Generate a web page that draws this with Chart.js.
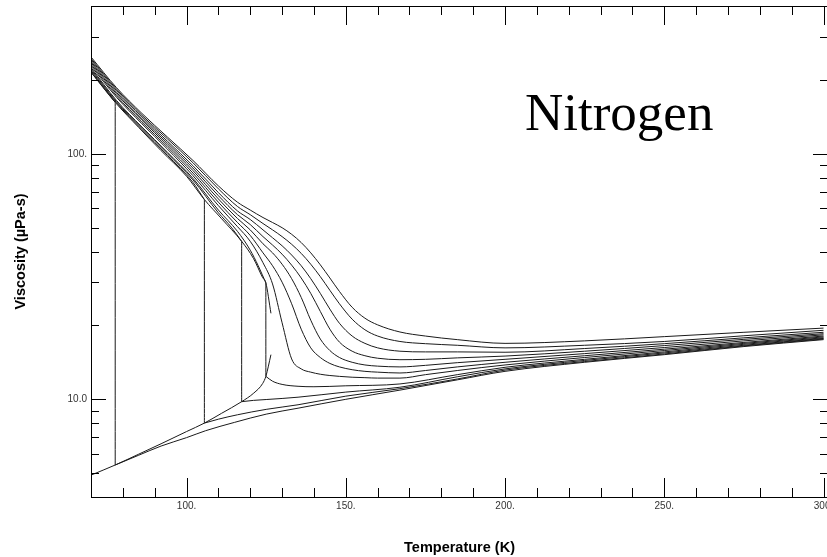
<!DOCTYPE html>
<html>
<head>
<meta charset="utf-8">
<title>Nitrogen viscosity</title>
<script src="https://cdn.jsdelivr.net/npm/chart.js@4.4.1/dist/chart.umd.min.js"></script>
<style>
  html, body { margin: 0; padding: 0; background: #fff; overflow: hidden; }
  #wrap { width: 840px; height: 557px; }
</style>
</head>
<body>
<div id="wrap"><canvas id="chart" width="840" height="557"></canvas></div>
<script>
// ---- axis ticks and labels ----
const xTicks = [70, 80, 90, 100, 110, 120, 130, 140, 150, 160, 170, 180, 190, 200,
                210, 220, 230, 240, 250, 260, 270, 280, 290, 300];
const xLabelValues = [100, 150, 200, 250, 300];
const xLabelText = ['100.', '150.', '200.', '250.', '300.'];
const yTicks = [4, 5, 6, 7, 8, 9, 10, 20, 30, 40, 50, 60, 70, 80, 90, 100, 200, 300, 400];
const yLabelValues = [10, 100];
const yLabelText = ['10.0', '100.'];

const xTitle = 'Temperature (K)';
const yTitle = 'Viscosity (\u00b5Pa-s)';
const fluidName = 'Nitrogen';

// ---- saturation boundary (K, uPa-s) ----
const satLiqT = [70, 77.6, 85, 92, 100, 105.6, 111, 117.3, 121, 123.9, 124.9, 126.5];
const satLiqV = [215, 162, 128, 103, 81, 65.1, 54.4, 44.0, 37.5, 31.3, 29.8, 22.4];
const satVapT = [70, 77.6, 85, 92, 100, 105.6, 111, 117.3, 121.1, 123.9, 124.9, 126.5];
const satVapV = [4.91, 5.40, 5.98, 6.59, 7.39, 8.0, 8.77, 9.78, 10.6, 11.6, 12.4, 15.2];

// ---- subcritical isobars: liquid branch, then vapour branch ----
const p01LiqT = [70, 74, 77.6];
const p01LiqV = [215.5, 185.5, 162];
const p01VapT = [77.6, 85, 92, 100, 106, 115, 125, 135, 150, 167, 185, 200, 225, 250, 275, 300];
const p01VapV = [5.40, 5.92, 6.45, 6.98, 7.45, 8.05, 8.7, 9.2, 10.0, 10.9, 12.0, 13.0, 14.15, 15.2, 16.4, 17.5];

const p1LiqT = [70, 78, 86, 94, 102, 105.6];
const p1LiqV = [218.5, 161.5, 125.5, 98.5, 76.5, 65.1];
const p1VapT = [105.6, 110, 116, 125, 135, 150, 167, 185, 200, 225, 250, 275, 300];
const p1VapV = [8.0, 8.3, 8.65, 9.1, 9.5, 10.3, 11.05, 12.1, 13.15, 14.25, 15.3, 16.5, 17.6];

const p2LiqT = [70, 78, 86, 94, 102, 110, 114, 117.3];
const p2LiqV = [221.5, 163, 127, 100, 78.3, 57.5, 50.3, 44.0];
const p2VapT = [117.3, 121, 125, 130, 135, 150, 167, 185, 200, 225, 250, 275, 300];
const p2VapV = [9.78, 9.9, 9.98, 10.08, 10.2, 10.7, 11.2, 12.35, 13.3, 14.4, 15.45, 16.6, 17.7];

const p3LiqT = [70, 78, 86, 94, 102, 110, 116, 120, 122.5, 124.9];
const p3LiqV = [224.5, 165, 128.5, 101.5, 79.5, 59, 48.3, 40.5, 35, 29.8];
const p3VapT = [124.9, 127, 130, 135, 140, 150, 167, 185, 200, 225, 250, 275, 300];
const p3VapV = [12.4, 11.85, 11.5, 11.3, 11.25, 11.35, 11.55, 12.6, 13.5, 14.55, 15.6, 16.75, 17.8];

// ---- supercritical isobars on a shared temperature grid ----
const superT = [70, 78, 86, 94, 102, 110, 116, 120, 124, 127, 130, 133, 136, 139, 142, 145,
                148, 152, 156, 160, 167, 175, 185, 200, 225, 250, 275, 300];
const visc4  = [228, 170, 132.5, 104.5, 81.5, 61.5, 50.5, 44, 36, 29.5, 20.5, 14.6, 13.3, 12.9,
                12.65, 12.5, 12.4, 12.3, 12.25, 12.2, 12.2, 12.6, 13.1, 13.8, 14.8, 15.8, 16.9, 17.95];
const visc5  = [231.5, 172.5, 134.5, 106.5, 83.5, 63.5, 52.5, 46.5, 39.5, 35, 30, 24.5, 19.3, 16.2,
                14.8, 14.0, 13.55, 13.2, 13.0, 12.9, 12.8, 13.1, 13.55, 14.15, 15.05, 16.0, 17.05, 18.1];
const visc6  = [235, 175.5, 137, 108.5, 85.5, 65.5, 54.5, 49, 43, 39.5, 35.5, 31, 26, 21,
                17.6, 15.8, 14.8, 14.15, 13.8, 13.65, 13.55, 13.75, 14.1, 14.55, 15.35, 16.25, 17.3, 18.3];
const visc7  = [238, 178, 139, 110.5, 87.5, 67.5, 56.5, 51.5, 46, 42.5, 39, 35.2, 31.2, 27,
                22.8, 19.3, 17.1, 15.7, 15.05, 14.7, 14.5, 14.55, 14.75, 15.0, 15.7, 16.55, 17.55, 18.5];
const visc8  = [241.5, 181, 141.5, 112.5, 89.5, 69.5, 58.5, 54, 49, 45.5, 42.2, 38.7, 35, 31,
                27, 23.3, 20.4, 18.1, 16.9, 16.2, 15.7, 15.6, 15.6, 15.55, 16.1, 16.85, 17.8, 18.75];
const visc9  = [244.5, 183.5, 143.5, 115, 92, 72, 61, 56.5, 52, 49, 46, 42.8, 39.3, 35.5,
                31.6, 27.8, 24.5, 21.2, 19.2, 18.1, 17.2, 16.85, 16.6, 16.2, 16.6, 17.2, 18.15, 19.1];
const visc10 = [248, 186, 146, 117, 94, 74, 63.5, 59, 55, 52.5, 50, 47, 43.5, 39.5,
                35.3, 31.2, 27.5, 23.7, 21.4, 20.1, 18.8, 18.1, 17.5, 16.9, 17.3, 18.0, 18.75, 19.5];

const FONT = 'Arial, "Liberation Sans", Helvetica, sans-serif';
Chart.defaults.font.family = FONT;

const pts = (ts, vs) => ts.map((t, i) => ({ x: t, y: vs[i] }));
const curve = data => ({
  data, borderColor: '#1a1a1a', borderWidth: 1, pointRadius: 0,
  fill: false, cubicInterpolationMode: 'monotone'
});

// liquid branch, the jump at the saturation temperature, vapour branch
function isobar(liqT, liqV, vapT, vapV) {
  const jump = [
    { x: liqT[liqT.length - 1], y: liqV[liqV.length - 1] },
    { x: vapT[0], y: vapV[0] }
  ];
  return [curve(pts(liqT, liqV)), curve(jump), curve(pts(vapT, vapV))];
}

const datasets = [
  curve(pts(satLiqT, satLiqV)),
  curve(pts(satVapT, satVapV)),
  ...isobar(p01LiqT, p01LiqV, p01VapT, p01VapV),
  ...isobar(p1LiqT, p1LiqV, p1VapT, p1VapV),
  ...isobar(p2LiqT, p2LiqV, p2VapT, p2VapV),
  ...isobar(p3LiqT, p3LiqV, p3VapT, p3VapV),
  ...[visc4, visc5, visc6, visc7, visc8, visc9, visc10].map(v => curve(pts(superT, v)))
];

// frame with inward tick marks on all four sides
const frameTicks = {
  id: 'frameTicks',
  afterDatasetsDraw(chart) {
    const { ctx, chartArea: a, scales: { x, y } } = chart;
    ctx.save();
    ctx.strokeStyle = '#000';
    ctx.lineWidth = 1;
    ctx.beginPath();
    ctx.rect(a.left + 0.5, a.top + 0.5, a.right - a.left, a.bottom - a.top);
    xTicks.forEach(v => {
      const px = Math.round(x.getPixelForValue(v)) + 0.5;
      const len = xLabelValues.includes(v) ? 19 : 9;
      ctx.moveTo(px, a.bottom); ctx.lineTo(px, a.bottom - len);
      ctx.moveTo(px, a.top); ctx.lineTo(px, a.top + len);
    });
    yTicks.forEach(v => {
      const py = Math.round(y.getPixelForValue(v)) + 0.5;
      const len = yLabelValues.includes(v) ? 15 : 8;
      ctx.moveTo(a.left, py); ctx.lineTo(a.left + len, py);
      ctx.moveTo(a.right, py); ctx.lineTo(a.right - len, py);
    });
    ctx.stroke();
    ctx.restore();
  },
  afterDraw(chart) {
    const { ctx, chartArea: a } = chart;
    ctx.save();
    ctx.fillStyle = '#000';
    ctx.font = 'bold 14.5px ' + FONT;
    ctx.textAlign = 'center';
    ctx.textBaseline = 'alphabetic';
    ctx.fillText(xTitle, (a.left + a.right) / 2, 552);
    ctx.save();
    ctx.translate(24.5, (a.top + a.bottom) / 2);
    ctx.rotate(-Math.PI / 2);
    ctx.fillText(yTitle, 0, 0);
    ctx.restore();
    ctx.font = '53px "Times New Roman", "Liberation Serif", serif';
    ctx.textAlign = 'left';
    ctx.fillText(fluidName, a.left + 434, a.top + 124);
    ctx.restore();
  }
};

new Chart(document.getElementById('chart'), {
  type: 'line',
  data: { datasets },
  plugins: [frameTicks],
  options: {
    responsive: false,
    animation: false,
    devicePixelRatio: 1,
    layout: { padding: { left: 0, right: 12, top: 6, bottom: 0 } },
    plugins: { legend: { display: false }, tooltip: { enabled: false } },
    scales: {
      x: {
        type: 'linear', min: 70, max: 301.4,
        grid: { display: false, drawTicks: false },
        border: { display: false },
        afterBuildTicks: s => { s.ticks = xTicks.map(v => ({ value: v })); },
        afterFit: s => { s.height = 60; },
        ticks: {
          autoSkip: false, maxRotation: 0, padding: 3, color: '#333',
          font: { size: 10 },
          callback: v => { const i = xLabelValues.indexOf(v); return i < 0 ? null : xLabelText[i]; }
        }
      },
      y: {
        type: 'logarithmic', min: 4, max: 400,
        grid: { display: false, drawTicks: false },
        border: { display: false },
        afterBuildTicks: s => { s.ticks = yTicks.map(v => ({ value: v })); },
        afterFit: s => { s.width = 91; },
        ticks: {
          autoSkip: false, padding: 4, color: '#333',
          font: { size: 10, lineHeight: 0 },
          callback: v => { const i = yLabelValues.indexOf(v); return i < 0 ? null : yLabelText[i]; }
        }
      }
    }
  }
});
</script>
</body>
</html>
